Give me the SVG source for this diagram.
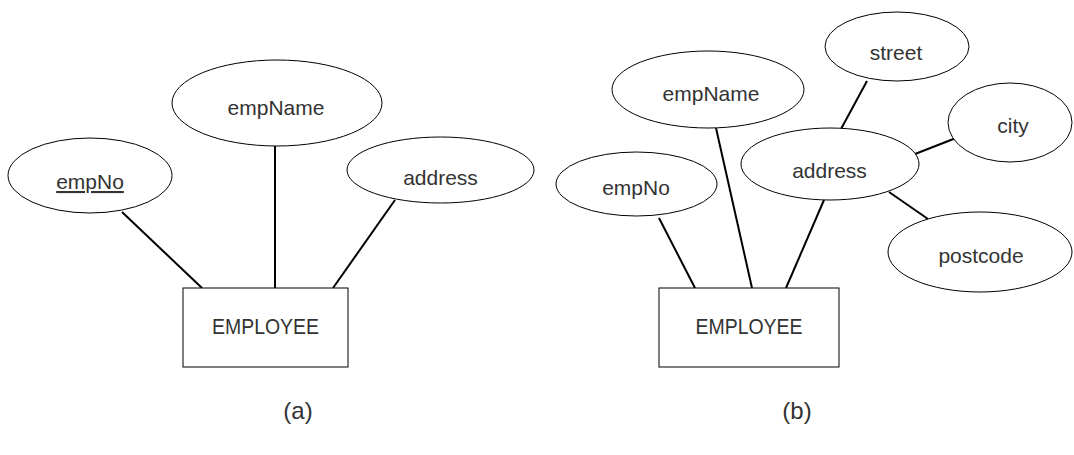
<svg xmlns="http://www.w3.org/2000/svg" width="1074" height="455" viewBox="0 0 1074 455">
<style>
.shape{fill:#fff;stroke:#000;stroke-width:1}
.lbl{font-family:"Liberation Sans",Arial,sans-serif;font-size:21px;fill:#333;text-anchor:middle}
.ent{font-size:22px}
.cap{font-size:24px}
.conn line{stroke:#000;stroke-width:2}
</style>
<rect width="1074" height="455" fill="#fff"/>
<g id="connectors" class="conn">
<line x1="122" y1="212" x2="202" y2="288"/>
<line x1="275" y1="146" x2="275" y2="288"/>
<line x1="395" y1="200" x2="333" y2="288"/>
<line x1="659" y1="218" x2="695" y2="288"/>
<line x1="716" y1="128" x2="752" y2="288"/>
<line x1="824" y1="200" x2="786" y2="288"/>
<line x1="867" y1="81" x2="841" y2="129"/>
<line x1="956" y1="138" x2="915" y2="154"/>
<line x1="889" y1="192" x2="928" y2="219"/>
</g>
<g id="a-empNo"><ellipse class="shape" cx="90" cy="175.5" rx="82" ry="37.5"/><text class="lbl" x="90" y="189" text-decoration="underline">empNo</text></g>
<g id="a-empName"><ellipse class="shape" cx="277" cy="103" rx="105" ry="43"/><text class="lbl" x="276" y="115">empName</text></g>
<g id="a-address"><ellipse class="shape" cx="440.5" cy="170" rx="93.5" ry="33"/><text class="lbl" x="440.5" y="185">address</text></g>
<g id="a-employee"><rect class="shape" x="183" y="288" width="165" height="79"/><text class="lbl ent" x="265.5" y="334" textLength="107" lengthAdjust="spacingAndGlyphs">EMPLOYEE</text></g>
<g id="b-empNo"><ellipse class="shape" cx="636.5" cy="184" rx="80.5" ry="32"/><text class="lbl" x="636" y="195">empNo</text></g>
<g id="b-empName"><ellipse class="shape" cx="708" cy="89.5" rx="96" ry="38.5"/><text class="lbl" x="711" y="101">empName</text></g>
<g id="b-address"><ellipse class="shape" cx="830" cy="164" rx="89" ry="36"/><text class="lbl" x="829.5" y="178">address</text></g>
<g id="b-street"><ellipse class="shape" cx="897" cy="46.5" rx="72" ry="34.5"/><text class="lbl" x="896" y="60">street</text></g>
<g id="b-city"><ellipse class="shape" cx="1010" cy="122.5" rx="62" ry="39.5"/><text class="lbl" x="1013" y="133">city</text></g>
<g id="b-postcode"><ellipse class="shape" cx="980" cy="252" rx="92" ry="40"/><text class="lbl" x="981" y="263">postcode</text></g>
<g id="b-employee"><rect class="shape" x="659" y="288" width="180" height="79"/><text class="lbl ent" x="749" y="334" textLength="107" lengthAdjust="spacingAndGlyphs">EMPLOYEE</text></g>
<text class="lbl cap" x="298" y="419">(a)</text>
<text class="lbl cap" x="797" y="419">(b)</text>
</svg>
